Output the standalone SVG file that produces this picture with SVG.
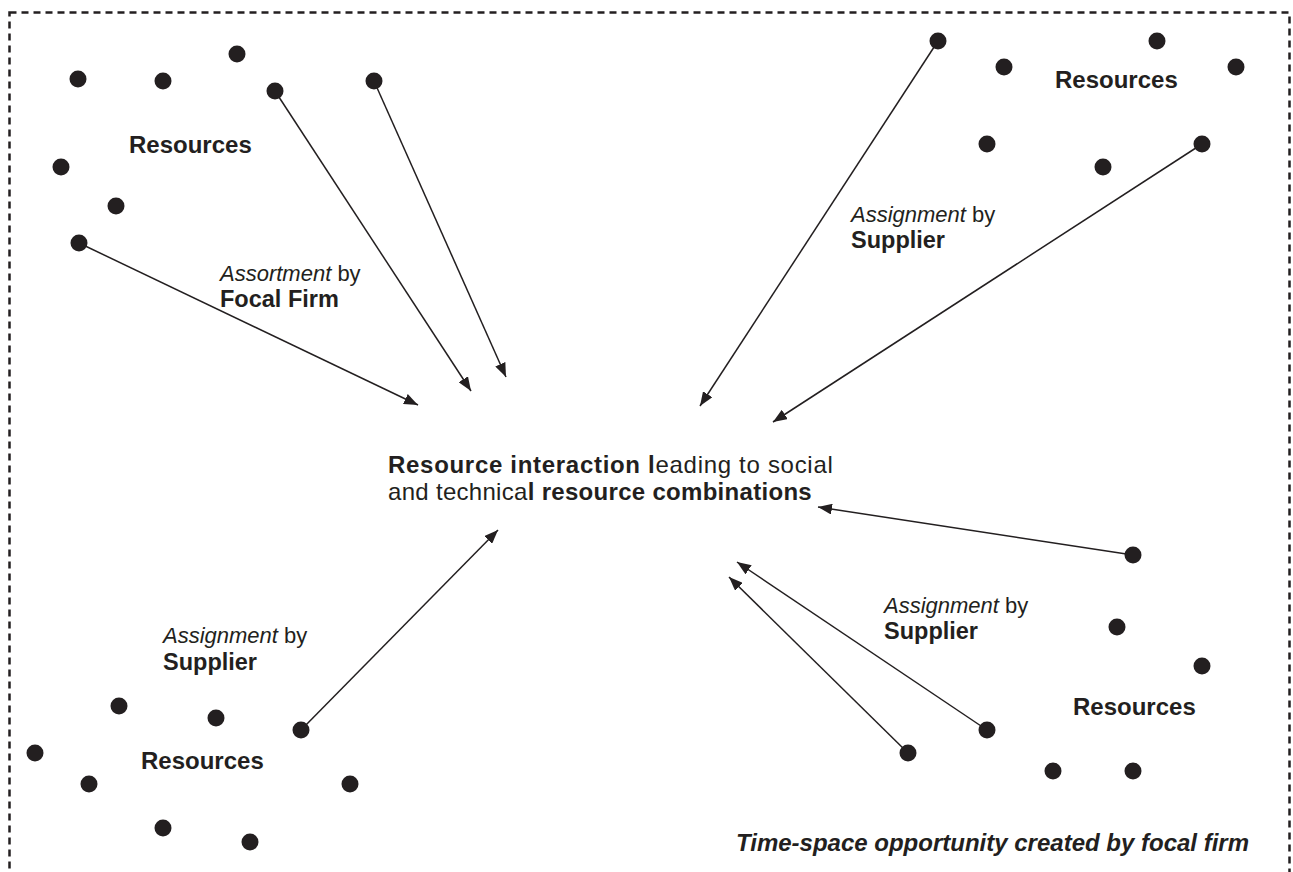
<svg xmlns="http://www.w3.org/2000/svg" width="1293" height="872" viewBox="0 0 1293 872">
<style>
text{font-family:"Liberation Sans",Arial,sans-serif;fill:#231f20;font-size:22px}
.b{font-weight:bold;font-size:23.5px}
.i{font-style:italic}
.r{font-weight:bold;font-size:24px}
.ctr{font-size:24px;letter-spacing:0.7px}
.ctr2{letter-spacing:0.3px}
.ctr .b{font-size:24px}
.cap{font-weight:bold;font-style:italic;font-size:24px}
.dot{fill:#231f20}
.c{stroke:#231f20;stroke-width:1.5;fill:none;marker-end:url(#ah)}
</style>
<defs>
<marker id="ah" markerUnits="userSpaceOnUse" markerWidth="15" markerHeight="11" refX="14" refY="5.5" orient="auto">
<path d="M0,0 L14,5.5 L0,11 z" fill="#231f20"/>
</marker>
</defs>
<rect x="9.5" y="12.5" width="1280" height="900" fill="none" stroke="#231f20" stroke-width="2.5" stroke-dasharray="7 5"/>
<g id="connectors">
<line class="c" x1="79" y1="243" x2="418" y2="405"/>
<line class="c" x1="275" y1="91" x2="471" y2="391"/>
<line class="c" x1="374" y1="81" x2="506" y2="377"/>
<line class="c" x1="938" y1="41" x2="700" y2="406"/>
<line class="c" x1="1202" y1="144" x2="773" y2="422"/>
<line class="c" x1="1133" y1="555" x2="818" y2="507"/>
<line class="c" x1="987" y1="730" x2="737" y2="562"/>
<line class="c" x1="908" y1="753" x2="729" y2="577"/>
<line class="c" x1="301" y1="730" x2="498" y2="530"/>
</g>
<g id="top-left">
<circle class="dot" cx="78" cy="79" r="8.5"/>
<circle class="dot" cx="163" cy="81" r="8.5"/>
<circle class="dot" cx="237" cy="54" r="8.5"/>
<circle class="dot" cx="275" cy="91" r="8.5"/>
<circle class="dot" cx="374" cy="81" r="8.5"/>
<circle class="dot" cx="61" cy="167" r="8.5"/>
<circle class="dot" cx="116" cy="206" r="8.5"/>
<circle class="dot" cx="79" cy="243" r="8.5"/>
<text class="r" x="129" y="153">Resources</text>
<text x="220" y="281"><tspan class="i">Assortment</tspan> by</text>
<text class="b" x="220" y="307">Focal Firm</text>
</g>
<g id="top-right">
<circle class="dot" cx="938" cy="41" r="8.5"/>
<circle class="dot" cx="1004" cy="67" r="8.5"/>
<circle class="dot" cx="1157" cy="41" r="8.5"/>
<circle class="dot" cx="1236" cy="67" r="8.5"/>
<circle class="dot" cx="987" cy="144" r="8.5"/>
<circle class="dot" cx="1103" cy="167" r="8.5"/>
<circle class="dot" cx="1202" cy="144" r="8.5"/>
<text class="r" x="1055" y="88">Resources</text>
<text x="851" y="222"><tspan class="i">Assignment</tspan> by</text>
<text class="b" x="851" y="248">Supplier</text>
</g>
<g id="center">
<text class="ctr" x="388" y="473"><tspan class="b">Resource interaction l</tspan>eading to social</text>
<text class="ctr ctr2" x="388" y="500">and technica<tspan class="b">l resource combinations</tspan></text>
</g>
<g id="bottom-right">
<circle class="dot" cx="1133" cy="555" r="8.5"/>
<circle class="dot" cx="1117" cy="627" r="8.5"/>
<circle class="dot" cx="1202" cy="666" r="8.5"/>
<circle class="dot" cx="987" cy="730" r="8.5"/>
<circle class="dot" cx="908" cy="753" r="8.5"/>
<circle class="dot" cx="1053" cy="771" r="8.5"/>
<circle class="dot" cx="1133" cy="771" r="8.5"/>
<text class="r" x="1073" y="715">Resources</text>
<text x="884" y="613"><tspan class="i">Assignment</tspan> by</text>
<text class="b" x="884" y="639">Supplier</text>
</g>
<g id="bottom-left">
<circle class="dot" cx="119" cy="706" r="8.5"/>
<circle class="dot" cx="216" cy="718" r="8.5"/>
<circle class="dot" cx="301" cy="730" r="8.5"/>
<circle class="dot" cx="35" cy="753" r="8.5"/>
<circle class="dot" cx="89" cy="784" r="8.5"/>
<circle class="dot" cx="350" cy="784" r="8.5"/>
<circle class="dot" cx="163" cy="828" r="8.5"/>
<circle class="dot" cx="250" cy="842" r="8.5"/>
<text class="r" x="141" y="769">Resources</text>
<text x="163" y="643"><tspan class="i">Assignment</tspan> by</text>
<text class="b" x="163" y="670">Supplier</text>
</g>
<g id="caption">
<text class="cap" x="736" y="851">Time-space opportunity created by focal firm</text>
</g>
</svg>
